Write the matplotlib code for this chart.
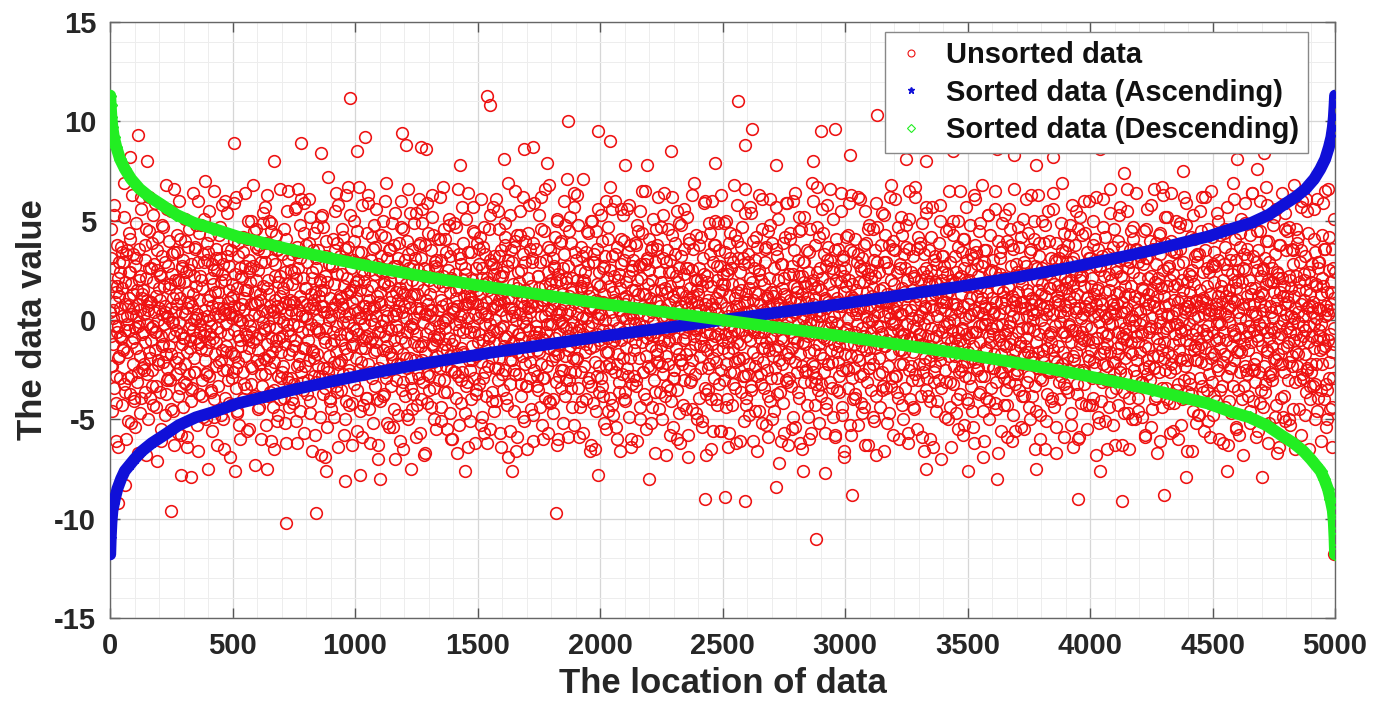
import numpy as np
import matplotlib
matplotlib.use("Agg")
import matplotlib.pyplot as plt
from matplotlib.lines import Line2D
from matplotlib.ticker import MultipleLocator

plt.rcParams['font.family'] = ['Liberation Sans', 'DejaVu Sans']
plt.rcParams['axes.unicode_minus'] = False

# ---------------- data ----------------
# bulk of the unsorted data, in order of location (evenly spread over 1..5000)
unsorted_values = [
0.4,-2.3,3.1,-0.8,1.7,-4.6,0.1,2.6,-1.2,5.3,-3.4,0.9,-0.3,1.4,-2.8,-6.1,3.8,-0.6,2.1,-1.9,
-0.3,1.2,-1.8,2.4,0.6,-2.9,3.7,-0.9,1.6,-4.3,0.2,2.9,-1.4,5.2,-3.2,0.8,-0.5,1.9,-6.0,3.3,
-0.2,3.5,-1.6,0.7,-2.9,4.4,1.1,-0.5,-3.7,2.4,0.3,-5.2,1.8,-1.1,6.3,-2.2,0.6,3.3,-4.1,-0.9,
2.7,-0.4,-1.4,4.9,0.2,-3.1,1.5,-2.6,0.8,-6.7,3.6,-0.1,2.2,-1.8,0.5,5.6,-3.9,1.3,-2.4,-0.7,
1.5,-0.6,0.3,-2.2,3.0,-1.1,-3.6,2.1,4.6,-0.2,1.0,-2.7,0.5,-5.0,2.6,6.2,-1.6,0.9,-3.9,-0.4,
-1.0,0.9,3.9,-2.5,-0.3,1.9,-4.3,2.8,0.4,-1.5,5.9,-0.6,-3.3,1.2,2.5,-7.1,0.0,-2.0,4.2,1.6,
0.6,-3.6,1.0,2.3,-0.8,-5.5,3.2,-1.3,0.3,4.7,-2.1,-0.2,1.7,-4.8,2.9,0.7,-1.7,6.8,-3.0,0.2,
-2.4,0.1,2.7,-1.3,-0.7,4.0,1.8,-3.0,0.6,-1.7,5.5,-0.1,2.3,-4.6,1.1,-6.3,3.4,-0.8,0.4,2.0,
-2.7,1.3,-0.5,3.4,0.8,-1.9,-3.8,2.0,6.0,-0.1,1.1,-2.4,4.1,-0.7,-5.8,2.6,0.4,-1.2,3.0,-4.4,
1.9,-0.9,-2.2,0.3,5.1,-3.2,2.4,-1.6,0.6,-6.4,3.7,1.4,-0.4,-2.7,4.6,0.9,-1.0,2.8,-3.5,-0.2,
0.7,-3.4,1.3,-0.5,2.2,-1.9,0.0,3.6,-2.6,4.8,-0.9,1.7,-5.3,0.3,2.9,-1.2,6.0,-3.7,1.0,-0.2,
-0.6,2.2,4.8,-1.4,0.1,-3.0,1.6,-4.9,3.3,-0.8,2.9,-2.0,0.5,7.0,-1.5,-5.0,0.2,3.9,-2.6,1.0,
3.4,-1.1,0.0,-2.8,1.2,4.3,-0.3,-3.6,2.1,0.7,-5.6,1.8,-0.9,2.5,-4.0,6.5,-1.7,0.3,3.1,-2.3,
-1.1,2.5,-0.4,0.9,-3.3,1.4,-2.1,4.3,0.2,-0.6,3.1,-4.8,1.9,-1.5,5.8,0.6,-2.5,2.8,-6.5,0.3,
-3.9,0.5,2.0,-0.2,-1.3,3.6,-2.5,5.4,0.9,-0.7,1.5,-4.2,2.7,-6.9,0.4,-1.6,3.5,1.1,-2.9,0.1,
1.2,-2.6,0.7,4.0,-0.5,-1.8,2.3,-3.4,6.2,0.2,-4.7,1.6,-0.8,3.2,-2.1,0.6,-5.3,2.6,-1.0,0.0,
2.2,-1.3,0.8,-0.1,-2.6,3.4,-4.0,1.1,0.5,-1.8,2.7,6.4,-0.7,-3.4,1.5,-5.6,4.1,0.0,-1.0,2.4,
-1.4,3.0,-0.3,1.9,-3.2,0.8,5.0,-2.4,-0.6,2.7,-1.1,4.5,0.3,-3.8,1.4,-7.3,2.0,-0.9,3.7,-2.0,
0.9,-1.5,2.5,-4.5,0.2,3.8,-0.7,-2.2,1.3,-6.0,2.9,0.5,-3.3,1.7,4.9,-0.1,-1.9,3.4,-2.7,5.7,
-0.5,3.9,-2.0,1.6,0.4,-1.2,2.0,-3.8,5.0,-0.3,1.3,-2.4,0.7,4.5,-6.1,-0.9,3.0,-1.6,0.1,-4.4,
-2.1,0.4,-3.5,1.0,2.8,-0.4,4.3,-1.3,0.7,-5.1,1.9,-2.8,3.6,0.1,-0.9,6.6,-4.0,2.2,-1.6,0.6,
3.3,-0.8,1.4,-2.3,-0.1,4.6,-3.9,0.9,2.4,-1.2,-6.2,0.3,1.8,-2.9,5.5,-0.5,3.0,-1.7,-4.4,0.8,
1.0,-0.8,-2.9,0.5,3.3,-1.5,1.8,-0.2,-4.2,2.4,0.9,-3.2,5.6,-1.0,2.1,0.3,-5.1,3.7,-2.3,6.6,
-0.3,2.6,-1.8,0.5,-4.6,3.1,1.2,-2.6,6.1,-0.6,0.9,-3.1,2.1,-1.4,4.4,-5.7,0.2,1.6,-2.3,3.8,
1.6,-3.7,0.1,2.9,-1.0,-0.5,3.9,-2.0,0.6,5.2,-4.1,1.3,-0.2,2.4,-6.6,-1.5,0.8,3.5,-2.8,1.0,
-1.9,0.6,1.4,-3.1,-0.4,2.6,-1.7,4.7,0.0,-2.3,3.5,1.2,-0.6,-4.9,2.0,-6.8,0.7,1.5,-2.8,5.3,
-2.4,0.7,4.7,-0.9,1.5,-3.4,2.2,-1.1,-0.4,3.2,-5.4,0.4,1.9,-2.6,7.2,0.0,-1.8,2.8,-3.9,1.1,
0.2,-1.2,2.7,-3.0,0.6,4.1,-0.6,1.8,-2.1,-4.9,3.5,0.8,-1.6,6.4,-0.3,2.3,-3.6,1.0,5.8,-2.2,
0.4,-2.1,3.2,-0.7,1.1,-1.0,-3.5,2.3,0.8,4.2,-2.7,-0.1,1.7,-5.8,3.6,0.2,-1.4,6.3,-4.1,1.3,
-1.7,2.1,-0.1,3.7,-2.7,0.3,-4.3,1.4,5.3,-0.8,2.6,-1.3,0.9,-6.3,3.0,-0.4,1.7,-3.2,4.0,0.5,
2.9,-0.5,1.1,-1.9,4.5,-3.5,0.4,2.0,-0.7,-2.5,6.7,1.5,-4.6,0.1,3.4,-1.4,-5.9,2.5,0.7,-1.0,
-2.7,1.9,-0.2,0.7,2.8,-1.4,0.3,-3.9,4.4,-0.8,1.5,-2.2,5.9,0.6,-4.5,2.5,-1.1,-6.2,3.0,0.0,
-0.9,1.7,-2.9,0.6,3.6,-1.6,-0.2,4.8,-3.3,2.3,0.2,-1.1,5.6,-4.0,1.2,-0.6,2.8,-7.0,0.9,-2.4,
1.4,-4.1,3.2,-0.3,0.8,-2.0,2.4,5.0,-1.5,0.0,-3.7,1.9,-0.8,4.2,-2.6,6.9,0.5,-1.3,3.1,-5.2,
1.7,-0.4,-1.6,3.5,-2.5,0.9,2.0,-0.5,-3.3,1.2,4.9,-1.9,0.2,-5.4,2.7,-1.0,3.8,0.5,-7.0,1.4,
-3.0,0.3,-1.4,2.7,1.0,-0.5,-4.8,3.9,0.7,-2.2,1.6,6.0,-0.9,2.1,-3.5,0.4,-1.7,4.6,-6.5,1.3,
0.7,2.4,-1.1,-3.8,0.1,1.8,4.0,-2.4,-0.6,3.3,-5.0,0.9,2.6,-1.9,-0.3,5.4,-2.9,1.2,-4.5,3.6,
-0.2,2.7,-3.7,1.3,0.1,-1.1,3.1,-2.0,0.6,5.4,-0.7,-4.3,1.8,-1.3,2.5,6.1,-2.9,0.4,-5.7,3.9,
-1.3,0.6,3.1,-2.0,4.9,-0.1,-3.1,1.5,2.2,-6.8,0.3,-1.6,3.8,-0.7,1.0,-2.7,5.9,-4.2,0.8,2.5,
2.0,-2.8,0.2,1.3,-0.4,-4.4,3.5,-1.2,6.3,0.5,-2.1,4.3,-0.8,1.7,-3.4,0.0,2.7,-5.5,-1.0,3.0,
2.6,-1.8,0.5,-0.9,1.9,-3.0,-0.3,4.1,-2.4,1.0,-5.1,3.0,0.7,-1.5,6.7,-0.1,2.2,-3.6,4.6,-1.2,
-0.4,4.1,-2.3,0.8,1.9,-1.5,-3.6,2.5,0.1,5.1,-0.9,-4.7,1.4,3.2,-2.5,-6.0,0.6,2.0,-1.2,0.4,
3.6,-1.0,0.5,-2.6,2.3,-0.2,4.7,-3.9,1.1,-1.7,0.7,6.6,-2.8,-0.5,1.6,-5.3,3.1,0.2,-3.0,2.8,
-1.4,0.3,-2.6,2.0,-0.6,3.9,1.2,-1.7,-4.7,0.8,2.6,-0.4,5.1,-3.1,1.6,-6.4,0.1,3.4,-2.0,0.9,
-2.5,1.2,-0.6,3.4,-4.0,0.9,2.0,-1.3,5.7,-0.3,-2.9,1.7,4.4,-6.2,0.3,2.6,-1.8,-3.5,0.8,1.5,
0.1,-1.7,2.8,-0.7,-3.2,4.2,1.3,-2.1,0.4,6.1,-4.9,2.1,-1.0,3.7,0.6,-5.7,1.8,-0.2,-2.6,3.3,
0.9,-3.8,2.1,0.2,-1.3,1.5,-2.3,4.6,-0.8,3.0,-0.2,-5.5,1.1,2.8,-1.9,0.6,-4.1,5.7,-0.5,2.3,
-1.1,3.2,0.0,-2.4,1.6,-4.1,2.6,0.8,-0.6,5.5,-3.0,1.0,-1.9,4.6,-0.4,2.2,-6.4,0.5,3.5,-2.7,
2.2,-0.3,-3.5,1.4,0.9,-1.3,3.8,-2.5,4.9,0.2,-0.8,2.7,-4.3,1.1,-6.9,3.0,-1.5,0.6,5.3,-2.0,
-3.2,1.1,0.6,-2.0,2.9,-0.5,1.8,-1.1,3.7,-4.6,0.4,6.5,-2.7,0.0,1.4,-1.6,4.3,-5.9,2.4,-0.7,
-0.7,1.9,-2.7,4.3,0.3,-0.9,2.5,-3.8,1.2,-1.8,6.2,-0.1,3.3,-5.1,0.7,-2.2,1.5,4.0,-3.3,0.1,
1.0,-3.3,0.6,2.1,-1.6,5.8,-0.5,-2.9,3.6,0.4,-4.5,1.7,-1.2,2.9,0.9,-6.1,3.9,-0.8,1.3,-2.5,
1.3,-1.0,3.6,-0.3,-2.8,0.7,-1.5,2.2,-3.5,5.3,1.6,-0.6,-4.4,2.9,0.2,-2.2,6.2,-0.9,1.0,-6.0,
-2.9,0.8,4.5,-1.0,0.2,-3.9,1.7,3.0,-0.6,-2.3,1.1,-5.7,2.4,0.5,6.8,-1.4,-0.2,3.5,-4.2,2.0,
0.5,-2.0,1.5,-0.2,3.1,-4.7,2.7,-1.5,0.8,4.2,-0.9,-3.1,1.9,-6.3,5.0,0.3,-1.7,2.3,-2.8,0.0,
-0.7,2.0,-1.2,4.0,0.5,-3.4,1.3,-0.1,2.6,-2.5,-5.2,3.3,0.8,-1.8,4.8,-0.4,1.9,-3.0,0.3,7.1,
-1.5,2.7,-0.8,1.2,-3.0,0.5,5.2,-2.6,-0.4,3.9,1.4,-4.4,2.1,-0.1,-1.9,6.4,-5.3,0.9,3.4,-1.1,
3.0,-0.6,-1.9,0.3,2.0,-3.4,4.8,0.7,-1.1,-5.9,2.5,-0.3,1.6,-2.6,3.7,0.1,-4.1,1.9,7.1,-0.7,
2.0,-2.3,0.9,-1.6,3.4,0.1,-4.0,1.6,-0.9,2.8,-0.3,4.4,-2.9,1.2,-6.6,0.5,-1.4,5.0,-3.3,0.7,
-0.1,1.4,-4.2,2.9,-1.3,0.6,3.3,-2.1,-6.5,1.0,4.5,-0.7,-2.8,1.8,0.3,5.6,-3.6,2.4,-1.0,0.9,
1.7,-1.2,0.3,-2.9,4.0,0.8,-0.5,2.6,-3.8,1.3,-5.2,3.2,0.0,-1.6,6.0,-2.3,2.1,-0.9,4.7,-4.6,
-1.6,0.8,-0.5,2.5,-3.9,1.7,0.4,-2.4,5.6,-1.1,3.2,0.0,-4.8,1.0,2.2,-0.8,6.0,-2.6,0.9,-5.4,
-2.2,0.9,3.7,-0.4,-1.7,2.3,-3.1,0.5,1.6,-6.6,4.1,-1.0,2.8,0.2,-2.7,5.3,-0.6,1.1,-4.0,3.0,
0.8,-3.6,1.9,-1.4,0.1,5.6,-2.4,3.4,-0.8,1.0,-4.9,2.2,-0.2,-1.9,3.8,-6.0,0.4,2.7,-3.2,1.5,
0.1,3.0,-2.8,0.6,1.5,-1.1,-0.2,3.8,-3.3,2.0,-0.7,-6.1,4.5,1.3,-1.9,0.4,2.7,-4.4,5.5,-0.5,
-0.5,2.1,-1.1,4.4,-2.6,0.7,1.3,-0.3,-3.7,2.8,6.5,-1.8,0.6,-5.5,3.1,-0.9,1.8,-2.3,0.2,4.1,
2.5,-0.7,-2.4,1.1,3.5,-1.3,0.4,-4.4,2.0,-0.1,5.1,-3.0,1.5,-0.6,-6.7,2.9,0.9,-1.5,3.6,-2.1,
3.8,-0.9,1.0,-2.1,-0.4,2.4,-3.6,0.7,1.9,-1.3,4.7,-5.0,0.2,-2.7,3.1,6.4,-1.0,0.5,-3.8,1.6,
-1.8,0.2,2.9,-3.3,1.4,-0.6,4.6,-2.2,0.8,-1.0,3.0,-5.8,1.7,0.3,-4.1,6.2,-0.4,2.4,-2.9,1.2,
0.3,-2.5,1.0,3.9,-0.9,-1.4,2.2,-3.5,5.5,0.6,-0.2,1.9,-4.7,2.6,-1.7,0.0,-6.2,3.2,-2.0,4.8,
-2.2,1.4,-1.0,0.3,-3.0,3.6,2.3,-0.6,0.9,-4.5,1.2,-1.7,5.2,-0.3,2.6,-6.9,0.6,-2.4,4.1,1.1,
-3.1,1.6,-0.3,0.9,2.5,-2.0,-4.5,1.2,3.6,-0.8,6.9,-1.2,0.4,-2.7,4.3,-0.5,1.5,-5.0,2.0,0.7,
1.3,-0.4,-3.9,2.6,0.5,-1.8,4.2,-0.9,-2.4,1.7,-5.4,3.1,0.1,-1.3,2.3,5.9,-3.4,0.8,-0.6,-6.8,
0.6,-1.5,2.2,-3.5,1.0,-0.2,4.9,-2.2,-0.7,3.3,0.4,-4.0,1.7,6.0,-1.2,-5.6,2.9,0.1,-2.9,3.8,
-0.8,3.8,0.6,-2.1,1.1,-4.3,2.0,-1.5,0.3,4.9,-3.2,1.4,-0.4,2.7,-5.6,0.9,6.3,-2.5,1.8,-1.0,
2.3,-1.4,0.0,-3.0,1.8,3.4,-0.7,-2.2,5.0,0.6,-4.0,2.5,-1.1,0.2,-6.4,3.9,1.2,-2.6,4.4,-0.3,
-0.8,2.6,-4.3,1.8,0.0,-1.4,2.9,-0.5,-2.6,4.3,1.1,-3.4,0.7,-6.2,5.8,-1.1,1.4,3.1,-1.9,0.3,
-2.0,0.7,-1.2,2.4,-3.6,1.5,0.1,4.7,-0.5,-1.9,3.1,-5.1,0.9,2.8,-2.8,6.6,-0.8,1.3,-4.3,0.4,
0.9,-2.7,3.3,-0.1,1.6,-4.8,2.1,-1.0,-0.4,5.4,-3.3,0.5,1.9,-1.6,4.0,-6.1,2.6,-0.6,3.0,-2.3,
1.4,-0.3,0.2,-2.8,3.7,-1.9,-0.6,1.3,-4.6,2.3,6.3,-0.9,0.8,-3.2,2.0,-1.4,4.6,-5.2,0.5,-2.1,
-0.6,1.8,-3.4,0.4,2.9,-1.1,-0.2,3.7,-2.5,1.2,-5.9,4.5,0.7,-1.5,2.1,0.0,-4.1,6.1,-2.9,1.4,
3.9,-0.9,1.2,-1.8,-0.3,2.6,-4.6,0.3,1.4,-2.4,5.7,-0.5,3.2,-3.7,0.8,-1.3,2.0,-7.2,0.6,-2.0,
-3.6,0.9,2.8,-0.9,1.6,-2.2,0.3,-1.0,3.9,-5.7,0.6,2.1,-0.4,4.2,-3.0,1.2,-1.7,5.9,-0.1,-6.3,
-1.6,0.5,2.3,-2.9,4.1,-0.6,1.0,-3.3,0.2,2.7,-1.4,6.0,-0.9,-4.9,1.7,3.5,-2.1,0.4,-5.4,1.1,
0.4,-1.1,-2.6,1.6,3.0,-0.2,-3.9,2.2,5.2,-1.7,0.9,-0.5,4.6,-2.3,1.3,-6.5,0.1,2.9,-3.1,1.9,
2.9,-1.2,-0.3,1.7,-2.5,0.5,3.5,-4.3,1.1,-0.8,2.4,-1.6,-6.0,0.4,4.6,-3.1,1.8,0.0,-2.2,6.9,
-2.6,2.0,0.8,-0.7,-1.5,3.8,-4.3,1.1,0.3,-2.9,2.4,6.7,-0.1,1.7,-3.5,-5.2,4.2,-1.2,0.5,2.6,
1.5,-3.2,0.2,2.1,-0.8,4.4,-1.9,-0.3,3.3,-2.6,1.0,-5.7,2.7,0.6,-4.2,5.8,-1.0,0.9,-2.2,3.7,
-0.4,1.8,-3.1,3.0,0.8,-1.5,-0.1,2.6,-2.1,5.1,-4.9,1.4,0.2,-1.2,3.5,-0.6,-5.8,2.0,0.9,-3.5,
-0.2,1.1,-2.1,3.6,0.4,-1.3,-3.6,2.5,-0.9,6.4,1.9,-4.8,0.7,-2.5,3.0,-0.6,1.4,-6.9,2.2,-1.7,
2.6,-0.5,1.7,-2.4,-1.2,0.9,4.3,-3.4,0.1,2.0,-0.7,-5.3,3.5,1.2,-1.8,6.3,-2.9,0.5,-4.0,1.0,
1.1,-2.4,0.7,-0.6,4.1,-3.7,1.5,0.3,-1.8,2.9,-0.2,-5.3,3.3,1.9,-1.0,6.1,-2.8,0.6,-4.2,2.5,
-1.3,3.1,-0.4,0.6,-2.7,1.9,-4.4,2.6,5.5,-0.8,0.2,-1.5,3.9,-3.1,1.4,-6.3,2.3,-0.1,4.8,-2.4,
0.6,-1.9,2.5,-0.6,-3.5,1.2,0.0,4.6,-2.2,1.6,-5.1,3.0,-0.9,2.2,-1.4,5.9,-3.8,0.8,-0.3,2.9,
-1.2,0.4,2.4,-1.9,-0.3,1.0,-4.4,3.8,0.9,-2.6,5.4,-0.7,1.6,-3.3,0.2,-6.6,2.9,-1.3,4.3,0.8,
-3.4,0.9,1.3,-1.0,2.6,-2.3,0.4,-4.7,3.8,0.1,-0.6,6.8,-1.7,2.0,-2.9,1.1,4.0,-5.8,0.6,-0.2,
1.8,-0.1,-2.8,3.5,-1.1,0.7,2.4,-3.6,1.0,-0.5,4.7,-1.5,-6.0,2.8,0.3,-2.2,5.2,-0.8,1.6,-4.3,
0.3,-0.7,-2.2,3.3,1.4,-1.6,2.6,-3.4,0.5,4.8,-1.0,-0.2,2.0,-5.7,1.2,3.6,-2.5,6.5,-0.9,-4.0,
-0.9,2.4,0.5,-3.0,1.5,-1.6,-0.3,3.2,-4.5,2.1,0.8,-2.7,6.2,-0.4,1.2,-5.5,3.6,-1.3,0.0,4.2,
0.2,-2.2,3.7,1.0,-0.7,-3.8,2.0,-1.2,4.9,0.4,-2.6,1.5,-0.2,3.3,-6.6,0.7,-1.9,2.6,5.4,-3.5,
-2.9,2.2,0.1,-0.8,1.8,-1.3,3.5,-2.0,-4.1,0.7,2.5,-0.4,5.7,1.1,-1.6,-6.4,0.5,3.0,-3.1,1.9,
-2.3,1.3,-0.8,2.8,-4.1,0.2,1.8,-1.6,-0.5,3.9,-3.0,0.6,5.0,-2.0,1.1,-7.0,2.4,-0.6,3.2,0.9,
3.2,-0.3,1.6,-1.4,0.5,-2.5,4.5,-3.1,0.9,2.3,-0.9,-5.0,1.4,-0.1,6.5,-1.8,2.9,-4.4,0.3,-1.1,
1.8,-0.5,-1.4,0.8,-3.2,4.3,0.0,-2.3,1.9,-0.9,3.2,-4.7,2.4,0.6,-1.3,5.0,-0.6,-5.5,2.1,-2.6,
-1.0,0.4,-3.7,2.2,1.3,-0.4,3.4,-2.3,-5.8,0.7,2.6,-1.2,4.1,0.1,-2.8,1.9,-0.7,5.7,-4.0,3.0,
0.8,-1.6,2.0,-0.9,-2.9,4.8,1.1,-3.3,0.3,2.5,-0.6,-4.6,3.1,1.7,-1.3,-6.2,0.5,3.8,-2.1,6.1,
-0.6,3.4,-2.5,1.2,0.4,-1.8,2.2,-0.3,-3.7,1.6,4.9,-1.1,0.9,-2.8,6.8,-0.2,2.7,-4.6,0.3,-6.1,
-2.8,2.9,-0.2,0.7,-1.5,3.5,-3.9,1.4,0.0,5.3,-2.3,-0.8,1.9,-5.0,4.3,-1.1,2.5,0.6,-3.4,-0.4,
1.1,-0.7,3.0,-2.4,0.4,-1.7,2.4,-4.2,5.6,0.9,-3.1,1.6,-0.3,4.0,-6.7,2.1,-1.0,0.3,-2.6,3.4,
2.3,-1.7,0.9,-0.2,-2.6,3.7,-1.2,1.4,0.6,-4.3,2.1,-0.7,5.3,-3.5,1.0,-0.5,-5.9,4.0,1.7,-2.3,
-0.3,1.6,-3.1,4.6,-1.2,0.5,-2.0,2.7,1.2,-0.9,-4.8,3.6,0.2,-2.7,6.6,-1.5,1.0,-5.6,2.2,0.7,
2.4,-2.5,0.1,1.4,-0.6,3.7,-3.5,-1.3,2.1,0.6,-5.4,4.2,-0.4,1.8,-2.2,0.9,5.1,-3.8,-1.7,2.9,
-1.3,0.6,-0.9,2.7,1.5,-3.1,0.2,-1.6,4.4,-0.4,2.3,-2.8,-5.0,3.4,0.8,6.3,-1.8,1.1,-3.8,0.0,
-1.9,0.3,4.1,-0.5,2.7,-3.3,1.0,-1.1,-4.6,2.0,0.4,6.3,-2.4,1.5,-0.7,3.2,-6.0,0.8,-2.9,1.3,
0.0,-3.0,1.8,2.6,-1.8,0.6,-0.4,3.9,-2.1,4.8,1.2,-5.1,0.3,-1.4,2.3,-3.7,5.5,-0.8,1.6,-2.5,
0.5,-2.6,1.6,-1.1,3.1,-0.6,-3.9,2.5,0.3,-1.5,5.6,1.8,-4.4,0.9,-0.3,2.9,-6.7,3.9,-2.1,1.2,
-2.4,1.0,-1.3,0.8,3.1,-4.0,2.3,-0.1,1.5,-2.8,6.9,-0.6,3.5,-1.6,0.2,-5.9,4.4,-3.2,0.7,2.1,
1.6,-0.8,2.9,-1.9,0.5,-3.6,3.8,1.3,-0.2,-2.5,4.3,0.9,-4.7,2.0,-1.1,5.8,-0.5,-6.4,1.7,3.1,
-2.0,1.1,3.8,-0.5,-1.6,0.4,2.4,-3.2,1.3,-0.8,4.6,-2.5,0.6,-5.9,2.0,-1.2,5.2,0.1,-4.2,2.7,
-0.6,2.2,-2.6,0.3,1.7,-1.0,-3.2,4.4,0.7,-0.3,2.8,-5.5,1.1,3.4,-1.8,0.5,-4.3,6.0,-2.0,0.9,
3.1,-1.5,0.6,-0.4,2.1,-2.9,5.0,-1.1,-3.9,1.3,0.2,4.1,-2.4,-6.8,0.8,2.7,-0.9,1.5,-4.9,3.6,
1.6,-0.1,-2.9,1.0,2.7,-1.7,0.5,-4.1,3.2,0.8,-0.6,-2.2,6.1,-1.4,2.2,-5.1,0.2,4.2,-3.0,-0.8,
-1.2,0.1,-2.3,3.3,-0.7,1.5,-4.4,2.3,6.6,-1.6,0.4,-3.0,2.0,-0.2,1.0,-5.3,3.7,-2.1,4.6,0.6,
0.3,-2.1,1.3,-3.4,2.6,0.8,-1.4,4.0,-0.6,-4.3,3.0,1.4,-0.1,-2.6,5.7,-1.2,2.2,-6.3,0.9,-0.8,
-0.9,2.1,0.4,-3.6,1.7,-0.4,-1.9,3.0,-2.7,0.6,5.5,-1.0,2.6,-4.7,1.3,0.0,-6.5,3.5,-1.6,4.5,
-3.3,1.7,0.2,-1.7,4.7,-0.3,2.4,-2.5,0.9,-5.0,1.2,3.6,-0.8,6.4,-2.0,0.5,-1.1,2.9,-3.9,1.1,
2.1,-0.2,-1.6,0.4,3.4,-3.1,1.6,-0.7,-4.9,2.8,0.0,-2.4,4.5,1.0,-1.3,-5.8,3.1,0.6,-2.7,5.6,
3.1,-1.4,1.3,-0.6,-2.3,0.8,4.0,-3.0,-0.3,2.2,-5.4,1.5,0.1,-1.8,3.6,6.6,-2.4,0.7,-4.0,1.9,
-0.4,2.8,-3.8,1.2,-0.9,0.6,2.1,-1.8,4.3,-2.6,-0.1,3.3,-6.1,1.6,0.3,-4.4,6.7,-1.5,2.5,-0.6,
1.2,-1.1,0.7,-2.5,3.9,-0.4,-3.4,1.7,0.2,5.2,-1.6,2.6,-4.2,0.8,-0.3,2.0,-5.7,3.5,-2.2,4.0,
-1.8,0.2,-1.2,2.3,-4.2,3.4,1.0,-0.7,-2.4,5.0,0.5,-3.5,1.8,-0.2,2.8,-6.0,0.9,-1.5,4.7,-0.4,
-2.0,3.6,-0.6,1.1,-1.9,0.0,-4.0,2.9,1.5,-3.0,6.2,-0.5,0.4,-2.3,4.8,-1.0,1.9,-6.6,0.7,-3.6,
0.7,-2.9,2.3,-0.2,1.4,-1.2,4.2,-3.7,0.5,-0.7,2.5,5.3,-4.6,1.8,-1.5,0.1,3.2,-2.0,-5.2,1.0,
0.9,-2.0,2.9,-1.4,0.2,-0.9,3.3,-4.8,1.5,-2.9,0.7,4.5,-1.2,6.2,-3.3,1.1,-0.5,2.4,-5.6,0.3,
-1.4,0.6,3.5,-2.2,0.9,-0.8,1.7,-3.5,-0.3,4.6,-2.7,2.4,0.3,-5.9,1.3,6.5,-1.9,0.5,-3.1,2.7,
2.8,-0.6,-1.7,1.9,-3.8,0.3,2.7,-1.0,0.8,-4.1,5.4,-0.2,3.0,-2.5,1.2,-0.9,-6.0,4.3,-1.4,0.4,
-0.2,1.7,-3.3,0.9,2.0,-2.1,-0.6,4.4,-1.7,0.3,3.7,-4.4,1.2,-1.0,5.7,-2.8,2.5,0.6,-6.3,1.5,
-0.1,1.5,-2.4,0.7,3.3,-4.7,1.1,-1.3,2.3,-0.5,-3.3,6.1,0.9,-2.0,4.1,-0.7,1.6,-5.4,3.0,-1.6,
1.0,-3.5,0.4,2.5,-0.9,-1.5,3.7,-2.6,0.1,5.1,-0.4,1.9,-4.0,2.6,-6.8,0.6,-1.2,3.3,-2.3,4.9,
2.5,-0.8,0.0,-2.7,1.2,3.1,-1.5,-3.8,0.8,2.0,-0.3,-5.2,4.3,1.6,-1.1,0.4,-2.5,6.4,-4.1,3.2,
-2.5,0.8,-0.5,1.6,-3.1,2.9,0.2,-1.9,4.5,-0.8,1.2,-5.6,3.5,-0.2,-2.6,6.0,0.9,-4.2,1.4,2.2,
0.5,-1.3,2.6,-4.4,1.3,-0.1,-2.3,3.1,0.7,-3.2,4.0,1.8,-0.6,-1.6,5.8,-6.2,2.0,-0.9,2.9,-2.8,
-2.6,0.7,1.9,-0.4,-1.3,2.6,-3.0,0.1,4.8,-1.9,1.4,-0.6,3.3,-4.9,0.6,-2.0,5.6,-6.7,1.0,2.1,
-1.7,2.3,-0.3,3.8,-2.2,0.5,1.4,-3.9,-0.7,2.1,6.4,-1.4,0.0,-4.9,1.7,-2.6,4.6,0.8,-5.1,0.3,
3.5,-0.4,1.2,-1.3,-3.0,0.9,2.2,-2.1,4.7,-0.6,-5.3,1.6,0.2,3.6,-1.8,-0.2,2.8,-4.5,6.8,-1.0,
1.2,-3.1,0.6,2.2,-0.7,-1.6,3.9,-2.3,0.4,-0.1,4.2,1.9,-4.5,-1.0,2.9,-5.8,0.8,3.5,-2.7,6.0,
-0.8,0.2,-2.9,2.0,1.0,-1.7,3.2,-0.5,-3.6,1.5,5.5,-2.4,0.6,4.4,-1.1,-6.5,2.4,-0.3,1.3,-4.0,
1.9,-2.6,0.4,-0.8,2.8,-3.3,0.9,4.1,-1.4,-0.2,3.4,-5.0,1.7,-2.2,0.1,6.1,-1.0,2.6,-3.9,0.6,
-0.5,2.9,-1.5,0.5,-3.5,1.3,-0.2,2.1,-2.2,5.9,-0.9,1.7,-4.0,3.6,0.2,-1.3,6.5,-3.2,0.7,-5.0,
-3.5,1.4,-1.0,0.3,-2.1,4.2,2.5,-0.7,-4.5,0.8,1.9,-1.6,3.6,-6.4,0.5,-2.9,5.1,1.1,-0.4,2.4,
]

# a second, sparser reading of the same cloud (mostly the outer part of the band)
unsorted_values_outer = [
4.6,-2.3,0.5,5.8,-4.2,1.7,-6.4,2.9,-0.8,3.4,-1.5,6.9,-3.6,0.2,-5.1,2.4,4.1,-2.8,1.3,-3.9,
-5.4,3.1,-0.3,2.0,-4.7,6.2,1.1,-2.5,3.8,-6.8,0.7,4.5,-1.9,2.6,-3.3,5.3,-0.6,-4.4,3.5,-2.2,
2.2,-6.1,4.8,-1.2,0.4,-3.7,5.6,-2.9,1.6,-4.5,3.3,-0.1,6.6,-2.1,4.3,-5.7,1.9,-3.4,2.7,-0.9,
-3.1,4.0,-5.9,0.9,2.5,-1.4,-4.1,6.4,-2.6,3.7,0.1,-6.6,4.4,-1.1,2.0,-3.8,5.1,-0.5,-2.7,3.0,
5.5,-0.7,-3.5,2.8,-4.9,1.4,3.6,-6.3,0.6,4.7,-2.0,2.3,-5.0,6.0,-1.6,3.2,-3.0,0.3,-4.3,1.8,
-1.7,5.9,-2.4,-4.6,3.9,0.0,-6.0,2.1,4.2,-3.2,1.5,-0.8,5.0,-5.5,2.6,-2.3,6.8,-3.9,0.8,4.6,
3.6,-4.4,1.0,-2.7,5.4,-0.4,2.9,-5.3,6.3,-1.8,-3.6,4.9,0.5,-6.5,2.2,-1.0,3.5,-4.8,1.2,-2.9,
-2.6,1.6,-5.2,4.1,-0.2,6.5,-3.1,2.5,-4.0,0.9,-1.3,5.7,-6.2,3.4,-2.2,4.8,0.2,-3.5,5.9,-1.4,
0.8,-3.0,6.1,-4.7,2.1,-1.6,4.4,-5.8,3.1,-0.5,-2.8,1.9,5.2,-3.7,0.4,-6.9,4.0,-2.4,2.8,-4.1,
-4.5,2.7,-1.0,5.5,-3.3,3.9,-6.4,1.2,-2.0,4.6,0.6,-5.0,3.0,-0.7,6.7,-2.5,1.5,-4.2,-1.2,5.0,
1.9,-5.6,3.4,0.1,-2.1,5.8,-4.3,2.3,-0.9,-3.9,6.3,1.0,-2.6,4.2,-5.2,0.7,3.7,-1.5,-6.3,2.5,
-0.6,4.3,-3.8,1.8,6.0,-2.9,0.2,-5.4,3.6,-1.7,2.4,-4.5,5.4,-0.3,-2.2,3.1,-6.1,4.7,1.4,-3.1,
3.0,-1.9,-4.8,6.6,0.6,-3.4,2.0,-0.4,4.9,-5.9,1.3,-2.7,3.8,-4.0,5.6,-1.1,2.6,-6.7,0.3,4.4,
-3.5,0.5,5.2,-1.3,-5.0,2.9,-2.3,4.1,-0.7,6.2,-4.4,1.7,-3.0,0.0,3.4,-5.5,4.8,-1.8,2.1,-6.0,
4.9,-2.6,1.5,-6.7,3.3,-0.1,-4.2,5.7,-1.6,2.3,-3.3,0.8,6.4,-5.1,1.1,-2.0,4.5,-0.6,-3.7,3.9,
-1.1,3.6,-5.3,2.6,-2.9,4.7,0.3,-6.2,1.9,-0.9,5.3,-3.6,2.8,-4.6,0.7,6.1,-2.4,3.2,-5.7,1.3,
2.4,-0.9,4.2,-3.9,6.9,-1.4,-5.6,3.5,0.2,-2.5,4.0,-6.6,1.6,-1.2,5.5,-3.2,0.9,-4.9,2.9,-0.3,
-6.5,4.4,-2.1,0.7,3.1,-4.8,5.9,-0.6,-3.3,2.2,-1.6,4.6,-5.3,1.0,-2.9,6.6,-0.2,3.7,-4.1,1.8,
1.1,-4.0,2.6,-1.8,5.1,-6.0,0.4,3.9,-2.5,-0.3,6.0,-3.8,2.1,-5.9,4.5,-1.3,-3.4,1.6,5.7,-2.6,
-2.0,6.3,-0.5,-4.4,1.7,3.2,-5.7,2.4,-1.2,4.5,-3.1,0.6,-6.3,5.0,-0.8,2.9,-4.6,3.6,0.1,-2.3,
5.3,-3.3,0.9,2.7,-5.5,-0.7,4.1,-2.2,6.7,-4.3,1.4,-1.0,3.3,-6.0,2.0,-3.6,0.5,5.6,-1.9,4.0,
-4.1,1.2,-2.8,5.8,0.3,-6.4,2.5,-1.5,3.9,-3.0,4.8,-0.2,-5.0,2.8,6.5,-2.6,1.3,-4.0,3.0,-0.6,
0.6,-5.2,3.7,-0.8,-3.6,4.6,-1.7,6.2,-4.5,1.5,-2.3,5.3,0.0,-6.8,3.5,-1.1,2.4,-3.5,4.3,-5.4,
-2.9,3.3,-6.0,1.4,4.9,-2.0,0.7,-4.3,5.6,-0.9,2.6,-5.8,3.9,-1.5,-3.0,6.3,-0.4,2.0,-4.7,0.9,
3.8,-1.3,2.0,-5.1,0.1,6.0,-3.7,1.9,-2.4,4.4,-6.5,0.8,-1.9,5.0,-4.0,2.7,-0.7,3.5,-5.6,1.5,
-0.2,4.9,-4.4,2.3,-1.6,-5.7,3.1,0.5,-3.2,6.8,-2.1,4.0,-0.6,1.8,-6.1,3.7,-2.8,0.4,5.4,-3.9,
2.9,-2.2,5.7,-3.5,1.0,-0.5,-4.6,4.2,-6.6,2.5,0.3,-2.7,6.1,-1.4,3.6,-5.3,1.1,-3.8,4.8,-0.8,
-5.0,0.8,-1.5,3.6,-2.9,5.1,-0.3,-6.1,2.8,-4.2,1.3,5.9,-3.1,0.6,-1.9,4.4,-5.5,2.3,-0.9,6.4,
1.4,-3.6,4.5,-6.2,2.2,-1.1,5.2,-2.6,0.9,-4.9,3.4,-0.2,-5.7,6.0,-2.3,1.6,-3.2,4.7,0.2,-1.7,
-3.8,5.6,-0.9,1.1,-4.5,3.0,-2.2,6.6,-0.1,-3.4,2.4,-5.9,4.1,-1.6,0.7,-2.8,5.5,-4.4,3.2,-6.6,
4.2,-0.4,-2.5,5.9,-5.8,1.8,3.4,-1.2,-3.9,0.5,6.2,-2.0,2.7,-4.7,-0.8,3.8,-6.3,1.0,4.6,-2.4,
-1.4,2.1,-4.9,0.2,3.5,-6.8,4.7,-2.7,1.5,-0.6,-3.5,5.3,-1.3,2.9,-5.2,0.9,6.2,-3.3,-0.2,3.6,
6.1,-2.8,0.4,-3.9,2.6,-1.5,4.3,-5.0,-0.7,3.7,1.2,-6.2,5.1,-2.3,0.1,-4.4,2.2,6.7,-1.0,-3.0,
-0.7,3.9,-5.9,2.4,-2.2,0.6,5.7,-3.8,1.9,-6.0,4.2,-0.9,-2.6,3.2,-4.6,1.4,-1.7,5.8,-3.4,2.0,
2.7,-4.9,1.3,-0.2,4.6,-3.1,-6.4,2.0,5.0,-1.8,0.8,-4.0,3.7,6.5,-2.5,-0.5,4.1,-5.3,1.7,-2.1,
-4.2,0.2,3.3,-1.9,-5.4,6.3,-0.6,2.8,-2.4,4.5,-3.6,1.1,-6.9,3.5,0.6,-1.4,5.3,-4.1,2.4,-0.4,
0.3,-2.4,6.5,-4.5,1.6,-0.8,3.1,-5.6,4.9,-2.9,2.1,-1.3,-4.3,5.6,-0.1,3.8,-6.1,0.9,-3.2,2.8,
-2.7,4.7,-1.1,0.9,-3.8,2.3,-5.5,6.1,-0.4,1.3,-4.4,3.6,0.5,-2.1,5.0,-6.5,2.6,-1.6,3.9,-4.8,
5.0,-1.5,2.4,-6.5,0.7,-2.6,4.0,-0.7,-4.1,6.4,-1.9,3.0,-5.4,1.7,-3.1,0.4,4.9,-2.2,-0.6,3.4,
-3.4,1.9,-0.3,4.8,-5.3,2.9,-1.8,0.6,5.5,-3.7,-6.0,2.2,-0.9,4.3,-2.5,6.0,-4.3,1.1,-1.0,3.1,
1.7,-4.3,3.8,-2.1,6.2,-0.9,0.3,-5.2,2.5,-3.1,4.7,-1.6,1.4,-6.5,3.3,-0.2,5.4,-3.6,0.8,-2.7,
-6.3,2.4,-1.7,5.3,-2.4,0.4,3.7,-4.7,1.2,-0.7,6.6,-3.9,2.9,-1.1,-5.0,4.1,0.0,-2.8,3.5,-4.6,
3.2,-0.6,-3.1,1.5,-5.9,4.6,-2.0,2.1,-0.4,5.8,-4.5,0.9,-2.4,3.9,-6.7,1.8,-1.2,4.4,-3.4,6.3,
-1.9,5.2,-4.0,0.3,2.7,-2.6,6.4,-5.6,1.7,-0.2,3.4,-3.2,-1.0,4.9,-5.3,2.0,0.6,-3.9,5.9,-2.0,
0.9,-3.2,2.2,-6.6,4.1,-1.3,-0.5,3.3,-4.8,5.5,-2.1,1.0,-3.6,6.2,-0.7,2.6,-5.1,0.5,-1.6,4.2,
-4.8,3.4,0.6,-2.3,5.0,-0.1,-3.5,1.4,-6.2,2.8,4.6,-1.8,0.2,-4.1,3.0,-2.4,6.9,-0.8,1.9,-5.5,
2.0,-5.8,4.4,-1.6,0.8,-3.3,5.9,-2.5,3.6,-0.6,-4.6,1.3,6.4,-2.2,0.3,-5.9,2.5,-1.0,4.5,-3.5,
-0.4,2.5,-3.6,6.7,-1.5,4.0,-5.2,0.4,-2.7,1.9,5.2,-4.3,2.4,-0.9,-6.4,3.8,-2.2,1.2,-3.8,5.4,
4.5,-1.1,-5.0,2.0,-2.3,3.5,0.1,-6.5,4.6,-1.7,1.5,-3.0,5.7,-0.3,2.3,-4.8,6.1,-2.5,0.7,-3.3,
-2.2,0.7,5.6,-3.2,1.8,-4.6,2.9,-0.8,-6.1,4.3,-1.4,3.6,-5.4,0.5,6.6,-2.9,1.4,-4.4,2.6,-1.2,
]

# clearly readable isolated points of the unsorted data
outlier_location = [
114, 80, 150, 505, 670, 780, 860, 980, 1010, 1040, 1190, 1210, 1270, 1290, 1430,
1540, 1550, 1610, 1690, 1725, 1785, 1870, 1990, 2040, 2100, 2190, 2290, 2470, 2565,
2590, 2620, 2720, 2870, 2900, 2960, 3020, 3130, 3250, 3330, 3440, 3530, 3620, 3690,
3780, 3850, 4040, 4140, 4380, 4600, 4680, 4710,
33, 60, 250, 290, 330, 400, 510, 640, 720, 840, 880, 960, 1020, 1100, 1230, 1450,
1640, 1820, 1990, 2200, 2430, 2510, 2590, 2720, 2830, 2880, 2920, 3030, 3330, 3500,
3620, 3780, 3950, 4040, 4130, 4300, 4390, 4560, 4700, 4995,
]
outlier_value = [
9.3, 8.2, 8.0, 8.9, 8.0, 8.9, 8.4, 11.2, 8.5, 9.2, 9.4, 8.8, 8.7, 8.6, 7.8,
11.3, 10.8, 8.1, 8.6, 8.7, 7.9, 10.0, 9.5, 9.0, 7.8, 7.8, 8.5, 7.9, 11.0,
8.8, 9.6, 7.8, 8.0, 9.5, 9.6, 8.3, 10.3, 8.1, 8.0, 8.5, 8.8, 8.6, 8.3,
7.8, 8.2, 8.6, 7.4, 7.5, 8.1, 7.6, 8.4,
-9.2, -8.3, -9.6, -7.8, -7.9, -7.5, -7.6, -7.5, -10.2, -9.7, -7.6, -8.1, -7.8, -8.0, -7.5, -7.6,
-7.6, -9.7, -7.8, -8.0, -9.0, -8.9, -9.1, -8.4, -7.6, -11.0, -7.7, -8.8, -7.5, -7.6,
-8.0, -7.5, -9.0, -7.6, -9.1, -8.8, -7.9, -7.6, -7.9, -11.8,
]

# ascending sorted curve, read at selected locations
ascending_location = [
1, 3, 6, 10, 15, 20, 30, 45, 60, 80, 100, 130, 170, 220, 280, 350, 430, 520, 620,
750, 900, 1100, 1300, 1550, 1800, 2050, 2300, 2500, 2700, 2950, 3200, 3450, 3700,
3900, 4100, 4250, 4380, 4480, 4580, 4660, 4730, 4790, 4840, 4880, 4915, 4940, 4960,
4975, 4985, 4991, 4995, 4998, 5000,
]
ascending_value = [
-11.8, -11.0, -10.2, -9.6, -9.3, -9.0, -8.5, -8.0, -7.6, -7.3, -7.0, -6.6, -6.2, -5.8,
-5.3, -4.9, -4.6, -4.2, -3.9, -3.5, -3.1, -2.6, -2.15, -1.65, -1.2, -0.75, -0.34, 0.0,
0.34, 0.75, 1.2, 1.65, 2.15, 2.6, 3.1, 3.5, 3.9, 4.2, 4.6, 4.9, 5.3, 5.8, 6.2, 6.6,
7.1, 7.6, 8.1, 8.7, 9.2, 9.7, 10.2, 10.8, 11.3,
]

x_ticks = [0, 500, 1000, 1500, 2000, 2500, 3000, 3500, 4000, 4500, 5000]
y_ticks = [-15, -10, -5, 0, 5, 10, 15]
legend_labels = ["Unsorted data", "Sorted data (Ascending)", "Sorted data (Descending)"]
x_label = "The location of data"
y_label = "The data value"

# ---------------- styles ----------------
RED = "#ee1111"
BLUE = "#1010d8"
GREEN = "#22ee22"

fig = plt.figure(figsize=(13.82, 7.13), dpi=100)
ax = fig.add_axes([0.0796, 0.1332, 0.8864, 0.8359])

circle_kw = dict(ls="none", marker="o", mfc="none", mec=RED, ms=8.4, mew=1.15, zorder=2)
for values in (unsorted_values, unsorted_values_outer):
    n = len(values)
    location = (np.arange(n) + 0.5) * 5000 / n
    ax.plot(location, values, **circle_kw)
ax.plot(outlier_location, outlier_value, **circle_kw)

asc_x = np.array(ascending_location, dtype=float)
asc_y = np.array(ascending_value, dtype=float)
# descending order is the ascending data read backwards
desc_x = 5001 - asc_x
desc_y = asc_y

ax.plot(asc_x, asc_y, "-", color=BLUE, lw=8.5, solid_capstyle="round",
        solid_joinstyle="round", zorder=3)
ax.plot(asc_x, asc_y, ls="none", marker="*", color=BLUE, ms=7.5, zorder=3)
ax.plot(desc_x, desc_y, "-", color=GREEN, lw=8.5, solid_capstyle="round",
        solid_joinstyle="round", zorder=4)
ax.plot(desc_x, desc_y, ls="none", marker="D", mfc="none", mec=GREEN, ms=6,
        mew=1.0, zorder=4)

ax.set_xlim(0, 5000)
ax.set_ylim(-15, 15)
ax.set_xticks(x_ticks)
ax.set_yticks(y_ticks)
ax.xaxis.set_minor_locator(MultipleLocator(100))
ax.yaxis.set_minor_locator(MultipleLocator(1))
ax.grid(which="major", color="#d6d6d6", lw=0.9, zorder=0)
ax.grid(which="minor", color="#ededed", lw=0.7, zorder=0)
ax.set_axisbelow(True)

ax.tick_params(which="major", direction="in", length=7, width=1, color="#555555",
               top=True, right=True, labelsize=21, pad=10, labelcolor="#262626")
ax.tick_params(which="minor", length=0)
for lab in ax.get_xticklabels() + ax.get_yticklabels():
    lab.set_fontweight("bold")
for sp in ax.spines.values():
    sp.set_color("#666666")
    sp.set_linewidth(1.0)

ax.set_xlabel(x_label, fontsize=25, fontweight="bold", color="#262626", labelpad=5)
ax.set_ylabel(y_label, fontsize=25, fontweight="bold", color="#262626", labelpad=4)

handles = [
    Line2D([], [], ls="none", marker="o", mfc="none", mec=RED, ms=5, mew=0.8),
    Line2D([], [], ls="none", marker="*", color=BLUE, ms=5),
    Line2D([], [], ls="none", marker="D", mfc="none", mec=GREEN, ms=4.5, mew=0.8),
]
leg = ax.legend(handles, legend_labels, loc="upper right", bbox_to_anchor=(0.978, 0.983),
                borderaxespad=0, prop=dict(size=21, weight="bold"), frameon=True,
                fancybox=False, framealpha=1, edgecolor="#888888", handlelength=1.2,
                handletextpad=0.6, labelspacing=0.33, borderpad=0.3)
leg.get_frame().set_linewidth(1.0)
for t in leg.get_texts():
    t.set_color("#111111")

fig.savefig("out.png", dpi=100)
